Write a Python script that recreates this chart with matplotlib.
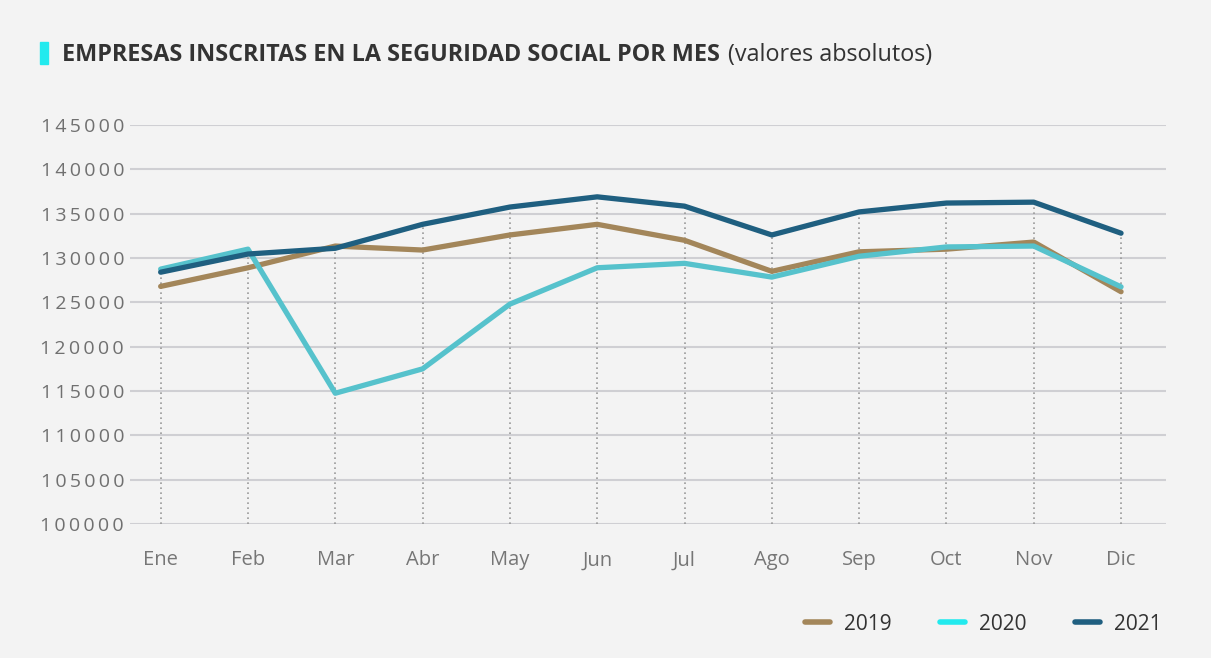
import matplotlib.pyplot as plt
import numpy as np

# data
months = ['Ene', 'Feb', 'Mar', 'Abr', 'May', 'Jun',
          'Jul', 'Ago', 'Sep', 'Oct', 'Nov', 'Dic']
y2019 = [126800, 128900, 131350, 130900, 132600, 133800,
         132000, 128500, 130700, 131000, 131800, 126200]
y2020 = [128750, 131000, 114750, 117500, 124800, 128900,
         129400, 127850, 130200, 131250, 131350, 126750]
y2021 = [128400, 130450, 131100, 133800, 135750, 136900,
         135850, 132600, 135200, 136200, 136300, 132800]
yticks = [100000, 105000, 110000, 115000, 120000, 125000,
          130000, 135000, 140000, 145000]

c2019 = '#a3865a'
c2020 = '#56c2cc'
c2020_legend = '#22eaee'
c2021 = '#1f5f80'
bg = '#f3f3f3'

plt.rcParams['font.family'] = ['Open Sans', 'DejaVu Sans']

fig = plt.figure(figsize=(12.11, 6.58), dpi=100, facecolor=bg)
ax = fig.add_axes([0.107, 0.2036, 0.856, 0.6064])
ax.set_facecolor(bg)

x = np.arange(len(months))
top = np.max([y2019, y2020, y2021], axis=0)
ax.vlines(x, yticks[0], top, colors='#9a9a9a', linestyles=(0, (1, 2)),
          linewidth=1.2, zorder=1)

for v in yticks:
    ax.axhline(v, color='#cfcfd3', linewidth=1.5, zorder=0)

ax.plot(x, y2019, color=c2019, linewidth=3.8, solid_capstyle='round', zorder=3)
ax.plot(x, y2020, color=c2020, linewidth=3.8, solid_capstyle='round', zorder=4)
ax.plot(x, y2021, color=c2021, linewidth=3.8, solid_capstyle='round', zorder=5)

ax.set_xlim(-0.356, 11.517)
ax.set_ylim(yticks[0], yticks[-1])
ax.set_xticks(x)
ax.set_xticklabels(months, fontsize=14.5, color='#767676')
ax.set_yticks(yticks)
ax.set_yticklabels(['\u2009'.join(str(v)) for v in yticks],
                   fontsize=14, color='#707070')
ax.tick_params(length=0)
ax.tick_params(axis='x', pad=19)
ax.tick_params(axis='y', pad=4)
for s in ax.spines.values():
    s.set_visible(False)

# title with cyan marker
fig.patches.append(plt.Rectangle((40 / 1211, 1 - 64 / 658), 8 / 1211, 22 / 658,
                                 transform=fig.transFigure, color=c2020_legend))
t = fig.text(62 / 1211, 1 - 61 / 658, 'EMPRESAS INSCRITAS EN LA SEGURIDAD SOCIAL POR MES',
             fontsize=16.8, fontweight='bold', color='#333333', va='baseline')
fig.canvas.draw()
bb = t.get_window_extent()
fig.text(bb.x1 / 1211 + 8 / 1211, 1 - 61 / 658, '(valores absolutos)',
         fontsize=16.8, color='#333333', va='baseline')

# legend
handles = [plt.Line2D([], [], color=c, linewidth=4, solid_capstyle='round')
           for c in (c2019, c2020_legend, c2021)]
fig.legend(handles, ['2019', '2020', '2021'], loc='center right',
           bbox_to_anchor=(0.975, 1 - 624 / 658), ncol=3, frameon=False,
           fontsize=15, handlelength=1.2, columnspacing=2.3, handletextpad=0.7,
           labelcolor='#333333')

fig.savefig('out.png', dpi=100, facecolor=bg)
